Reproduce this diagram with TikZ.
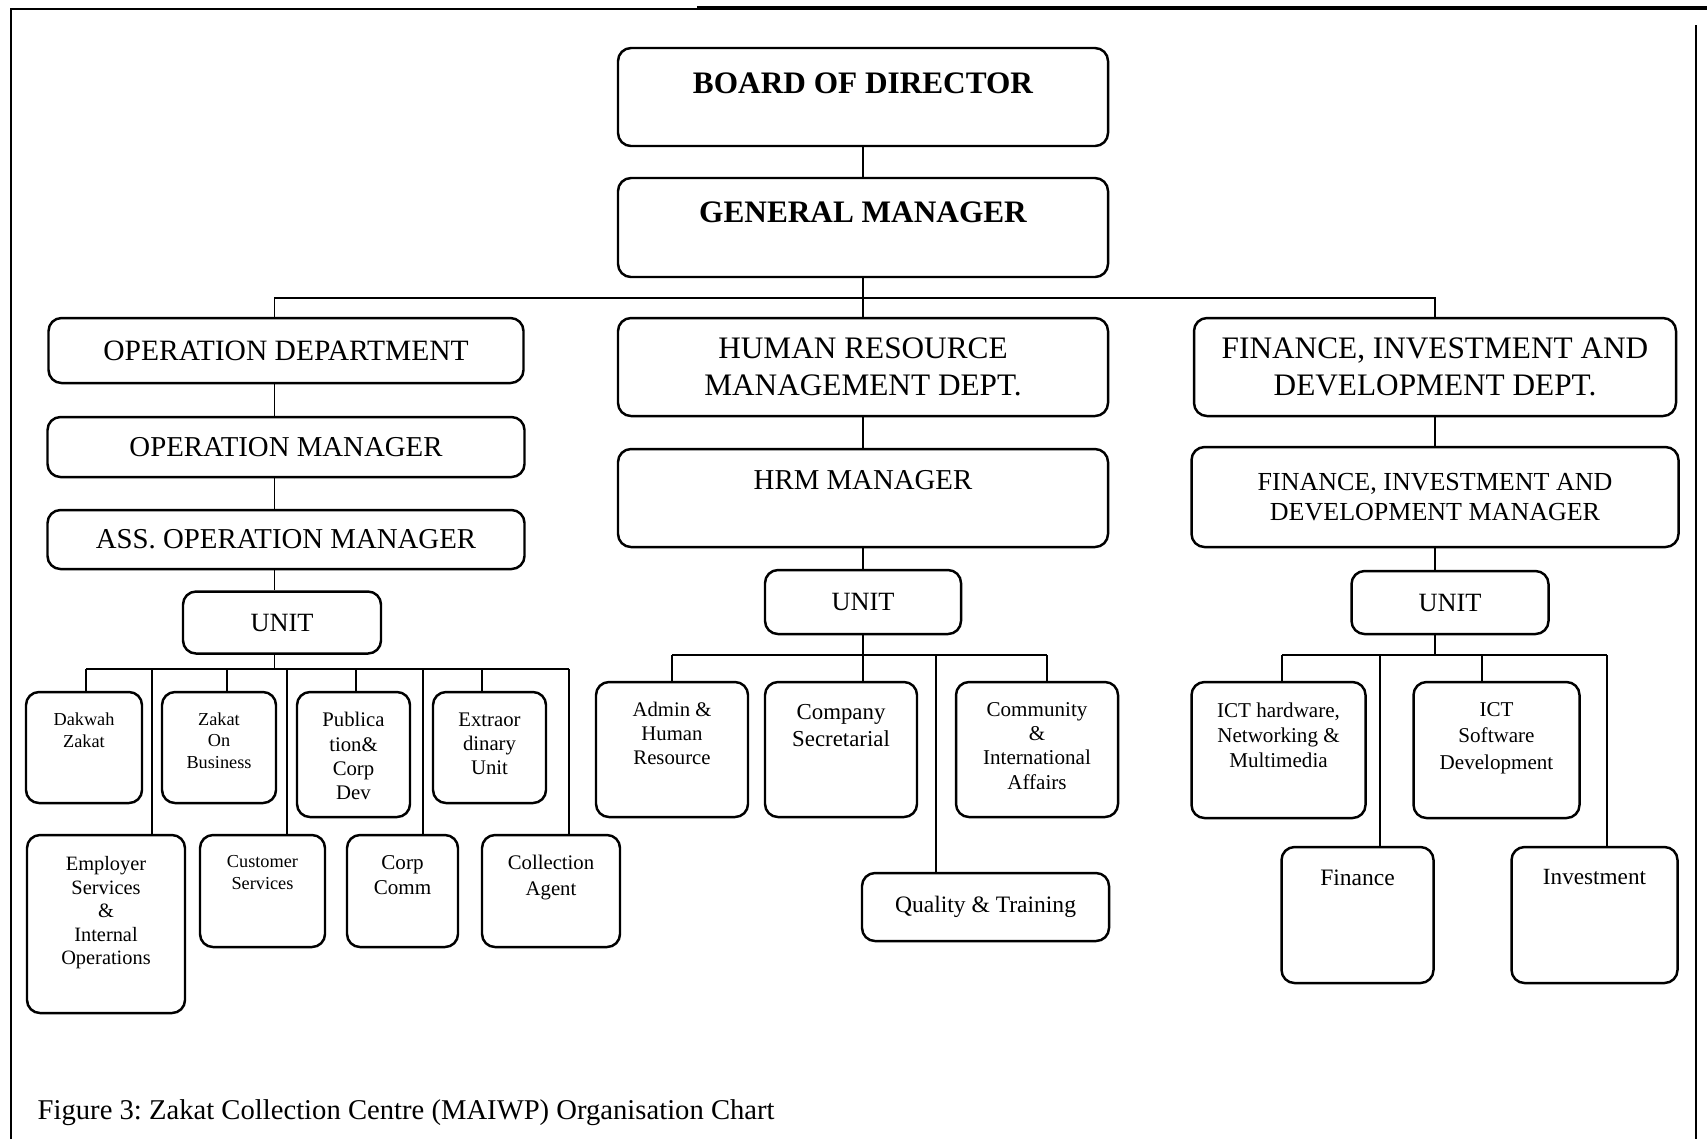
\documentclass[tikz,border=0pt]{standalone}
\usepackage{fontspec}
\setmainfont{Liberation Serif}
\usetikzlibrary{positioning}
\newcommand{\sz}[2]{\fontsize{#1}{#2}\selectfont}
\frenchspacing

\begin{document}
\begin{tikzpicture}[node distance=1cm and 1cm, on grid,
  box/.style={draw, rounded corners=0.13cm, line width=0.7pt, inner sep=0pt, align=center},
  link/.style={line width=0.45pt},
  toplabel/.style={anchor=north, align=center, inner sep=0pt, yshift=-0.21cm},
  toptext/.style 2 args={label={[toplabel,#1]north:{#2}}},
  dept/.style={box, font=\sz{8.9pt}{10.5pt}},
  mgr/.style={box, font=\sz{8.2pt}{10pt}},
  unitbox/.style={box, font=\sz{7.5pt}{9pt}, minimum width=1.97cm, minimum height=0.63cm}]
\useasboundingbox (0,0) rectangle (17.07,-11.39);

% page frame
\draw[line width=0.3pt] (0.11,-11.39) -- (0.11,-0.09) -- (6.97,-0.09);
\draw[line width=1pt] (6.97,-0.08) -- (17.07,-0.08);
\draw[line width=0.4pt] (16.96,-0.25) -- (16.96,-11.39);

% top of the chart
\node[box, minimum width=4.9cm, minimum height=0.98cm,
  toptext={font=\sz{8.9pt}{10.5pt}\bfseries, yshift=-0.04cm}{BOARD OF DIRECTOR}] (bod) at (8.63,-0.97) {};
\node[box, minimum width=4.9cm, minimum height=0.99cm,
  toptext={font=\sz{8.9pt}{10.5pt}\bfseries, yshift=-0.03cm}{GENERAL MANAGER}] (gm) [below=1.305cm of bod] {};

% departments
\node[dept, minimum width=4.9cm, minimum height=0.98cm] (hrmdept) [below=1.395cm of gm] {HUMAN RESOURCE\\MANAGEMENT DEPT.};
\node[dept, font=\sz{8.4pt}{10pt}, minimum width=4.75cm, minimum height=0.65cm] (opdept) [above left=0.165cm and 5.77cm of hrmdept] {OPERATION DEPARTMENT};
\node[dept, minimum width=4.82cm, minimum height=0.98cm] (findept) [right=5.72cm of hrmdept] {FINANCE, INVESTMENT AND\\DEVELOPMENT DEPT.};

% managers and units
\node[mgr, minimum width=4.77cm, minimum height=0.6cm] (opmgr) [below=0.965cm of opdept] {OPERATION MANAGER};
\node[mgr, minimum width=4.77cm, minimum height=0.59cm] (assmgr) [below=0.925cm of opmgr] {ASS. OPERATION MANAGER};
\node[unitbox, minimum width=1.98cm, minimum height=0.62cm] (opunit) [below left=0.83cm and 0.04cm of assmgr] {UNIT};

\node[box, minimum width=4.9cm, minimum height=0.98cm,
  toptext={font=\sz{8.2pt}{10pt}, yshift=-0.01cm}{HRM MANAGER}] (hrmmgr) [below=1.31cm of hrmdept] {};
\node[unitbox, minimum width=1.96cm, minimum height=0.64cm] (hrmunit) [below=1.04cm of hrmmgr] {UNIT};

\node[box, font=\sz{7.4pt}{8.7pt}, minimum width=4.87cm, minimum height=1cm] (finmgr) [below=1.3cm of findept] {FINANCE, INVESTMENT AND\\DEVELOPMENT MANAGER};
\node[unitbox] (finunit) [below right=1.055cm and 0.15cm of finmgr] {UNIT};

% operation units
\node[box, minimum width=1.16cm, minimum height=1.11cm, toptext={font=\sz{5.2pt}{6.3pt}}{Dakwah\\Zakat}] (dakwah) [below left=1.25cm and 1.98cm of opunit] {};
\node[box, minimum width=1.14cm, minimum height=1.11cm, toptext={font=\sz{5.2pt}{6.2pt}}{Zakat\\On\\Business}] (zob) [right=1.35cm of dakwah] {};
\node[box, minimum width=1.13cm, minimum height=1.25cm, toptext={font=\sz{5.9pt}{6.9pt}}{Publica\\tion\&\\Corp\\Dev}] (pub) [below right=0.07cm and 1.345cm of zob] {};
\node[box, minimum width=1.13cm, minimum height=1.11cm, toptext={font=\sz{5.9pt}{6.9pt}}{Extraor\\dinary\\Unit}] (extra) [right=2.705cm of zob] {};
\node[box, minimum width=1.58cm, minimum height=1.78cm, toptext={font=\sz{5.8pt}{6.7pt}, yshift=-0.01cm}{Employer\\Services\\\&\\Internal\\Operations}] (employer) [below right=1.765cm and 0.22cm of dakwah] {};
\node[box, minimum width=1.25cm, minimum height=1.12cm, toptext={font=\sz{5.2pt}{6.2pt}}{Customer\\Services}] (custsvc) [above right=0.33cm and 1.565cm of employer] {};
\node[box, minimum width=1.11cm, minimum height=1.12cm, toptext={font=\sz{6pt}{7pt}}{Corp\\Comm}] (corpcomm) [right=1.4cm of custsvc] {};
\node[box, minimum width=1.38cm, minimum height=1.12cm, toptext={font=\sz{5.9pt}{7.3pt}}{Collection\\Agent}] (collect) [right=1.485cm of corpcomm] {};

% human resource units
\node[box, minimum width=1.52cm, minimum height=1.35cm, toptext={font=\sz{5.9pt}{6.8pt}}{Admin \&\\Human\\Resource}] (admin) [below left=1.475cm and 1.91cm of hrmunit] {};
\node[box, minimum width=1.52cm, minimum height=1.35cm, toptext={font=\sz{6.5pt}{7.7pt}, yshift=-0.02cm}{Company\\Secretarial}] (compsec) [right=1.69cm of admin] {};
\node[box, minimum width=1.62cm, minimum height=1.35cm, toptext={font=\sz{6pt}{6.9pt}}{Community\\\&\\International\\Affairs}] (community) [right=1.96cm of compsec] {};
\node[box, font=\sz{6.7pt}{8pt}, minimum width=2.47cm, minimum height=0.68cm] (quality) [below right=1.575cm and 1.445cm of compsec] {Quality \& Training};

% finance units
\node[box, minimum width=1.74cm, minimum height=1.36cm, toptext={font=\sz{6pt}{7.2pt}}{ICT hardware,\\Networking \&\\Multimedia}] (icthw) [below left=1.475cm and 1.715cm of finunit] {};
\node[box, minimum width=1.66cm, minimum height=1.36cm, toptext={font=\sz{6pt}{7.5pt}}{ICT\\Software\\Development}] (ictsw) [right=2.18cm of icthw] {};
\node[box, minimum width=1.52cm, minimum height=1.36cm, toptext={font=\sz{6.7pt}{8pt}, yshift=-0.02cm}{Finance}] (finance) [below right=1.65cm and 0.79cm of icthw] {};
\node[box, minimum width=1.66cm, minimum height=1.36cm, toptext={font=\sz{6.6pt}{8pt}, yshift=-0.02cm}{Investment}] (invest) [right=2.37cm of finance] {};

% caption
\node[anchor=base west, inner sep=0pt, font=\sz{8.15pt}{10pt}] (caption) at (0.37,-11.19) {Figure 3: Zakat Collection Centre (MAIWP) Organisation Chart};

% connectors from the top down
\coordinate (topbus) at ([yshift=-0.2cm]gm.south);
\coordinate (optrunk) at ([xshift=-0.115cm]opdept.north);
\draw[link] (bod) -- (gm);
\draw[link] (gm) -- (topbus);
\draw[link] (optrunk) |- (topbus) -| (findept.north);
\draw[link] (topbus) -- (hrmdept);

\draw[link] (optrunk |- opdept.south) -- (optrunk |- opmgr.north);
\draw[link] (optrunk |- opmgr.south) -- (optrunk |- assmgr.north);
\draw[link] (optrunk |- assmgr.south) -- (optrunk |- opunit.north);
\draw[link] (hrmdept) -- (hrmmgr);
\draw[link] (hrmmgr) -- (hrmunit);
\draw[link] (findept) -- (finmgr);
\draw[link] (finmgr.south) -- (finmgr.south |- finunit.north);

% unit buses
\coordinate (opbus) at ([yshift=-0.14cm]opunit.south);
\coordinate (hrmbus) at ([yshift=-0.2cm]hrmunit.south);
\coordinate (finbus) at ([yshift=-0.2cm]finunit.south);
\draw[link] (optrunk |- opunit.south) -- (optrunk |- opbus);
\draw[link] (hrmunit) -- (hrmbus);
\draw[link] (finmgr.south |- finunit.south) -- (finmgr.south |- finbus);
\draw[link] ([xshift=0.02cm]dakwah.north |- opbus) -- ([xshift=0.18cm]collect.north |- opbus);
\draw[link] (admin.north |- hrmbus) -- ([xshift=0.1cm]community.north |- hrmbus);
\draw[link] ([xshift=0.035cm]icthw.north |- finbus) -- ([xshift=0.125cm]invest.north |- finbus);

\foreach \n/\d in {dakwah/0.02, zob/0.08, pub/0.025, extra/-0.075, employer/0.46,
                   custsvc/0.245, corpcomm/0.205, collect/0.18}
  \draw[link] ([xshift=\d cm]\n.north |- opbus) -- ([xshift=\d cm]\n.north);
\foreach \n/\d in {admin/0, compsec/0.22, quality/-0.495, community/0.1}
  \draw[link] ([xshift=\d cm]\n.north |- hrmbus) -- ([xshift=\d cm]\n.north);
\foreach \n/\d in {icthw/0.035, finance/0.225, ictsw/-0.145, invest/0.125}
  \draw[link] ([xshift=\d cm]\n.north |- finbus) -- ([xshift=\d cm]\n.north);
\end{tikzpicture}
\end{document}
